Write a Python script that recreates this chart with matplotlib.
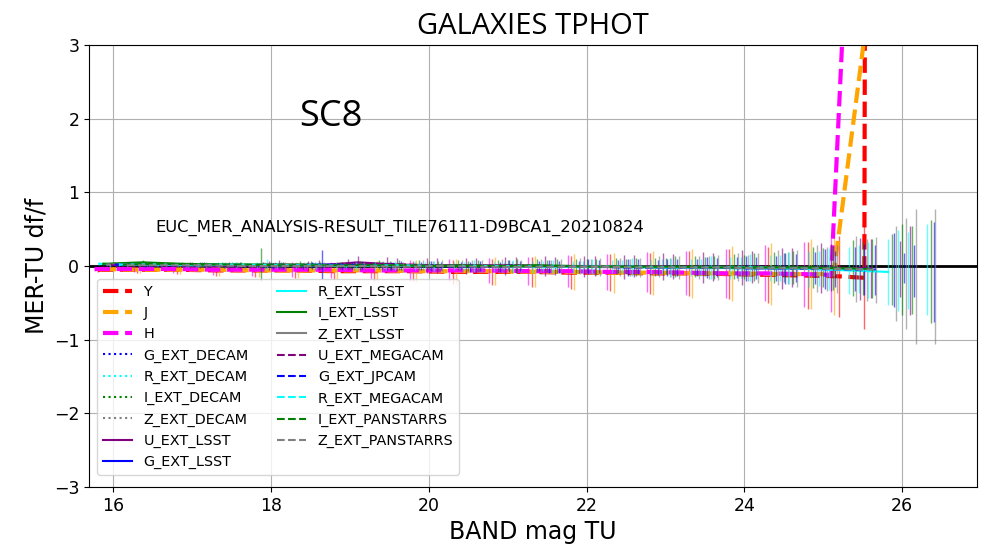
import matplotlib.pyplot as plt
import numpy as np

# Relative flux difference (MER - TU) per band, binned in TU magnitude
bands = ['Y', 'J', 'H',
         'G_EXT_DECAM', 'R_EXT_DECAM', 'I_EXT_DECAM', 'Z_EXT_DECAM',
         'U_EXT_LSST', 'G_EXT_LSST', 'R_EXT_LSST', 'I_EXT_LSST', 'Z_EXT_LSST',
         'U_EXT_MEGACAM', 'G_EXT_JPCAM', 'R_EXT_MEGACAM',
         'I_EXT_PANSTARRS', 'Z_EXT_PANSTARRS']

mag_Y = [15.80, 16.30, 16.80, 17.30, 17.80, 18.30, 18.80, 19.30, 19.80, 20.30, 20.80,
         21.30, 21.80, 22.30, 22.80, 23.30, 23.80, 24.30, 24.80, 25.20, 25.52, 25.55]
dff_Y = [-0.05, -0.05, -0.05, -0.06, -0.06, -0.06, -0.07, -0.07, -0.07, -0.08, -0.08,
         -0.08, -0.09, -0.09, -0.10, -0.10, -0.11, -0.12, -0.13, -0.14, -0.16, 15.0]
err_Y = [0.03, 0.04, 0.06, 0.07, 0.09, 0.10, 0.11, 0.13, 0.14, 0.16, 0.18,
         0.20, 0.22, 0.25, 0.28, 0.31, 0.34, 0.38, 0.45, 0.55, 0.70, 0.0]

mag_J = [15.84, 16.34, 16.84, 17.34, 17.84, 18.34, 18.84, 19.34, 19.84, 20.34, 20.84,
         21.34, 21.84, 22.34, 22.84, 23.34, 23.84, 24.34, 24.84, 25.13, 25.63]
dff_J = [-0.04, -0.05, -0.05, -0.05, -0.06, -0.06, -0.06, -0.06, -0.07, -0.07, -0.07,
         -0.08, -0.08, -0.09, -0.09, -0.10, -0.10, -0.11, -0.11, -0.11, 4.0]
err_J = [0.03, 0.05, 0.06, 0.08, 0.09, 0.10, 0.12, 0.13, 0.15, 0.17, 0.19,
         0.21, 0.24, 0.27, 0.30, 0.33, 0.37, 0.42, 0.48, 0.55, 0.0]

mag_H = [15.76, 16.26, 16.76, 17.26, 17.76, 18.26, 18.76, 19.26, 19.76, 20.26, 20.76,
         21.26, 21.76, 22.26, 22.76, 23.26, 23.76, 24.26, 24.76, 25.10, 25.27]
dff_H = [-0.04, -0.04, -0.04, -0.05, -0.05, -0.05, -0.05, -0.06, -0.06, -0.06, -0.06,
         -0.07, -0.07, -0.08, -0.08, -0.09, -0.10, -0.10, -0.11, -0.12, 3.75]
err_H = [0.03, 0.04, 0.06, 0.07, 0.08, 0.10, 0.11, 0.12, 0.14, 0.15, 0.17,
         0.19, 0.22, 0.24, 0.27, 0.30, 0.33, 0.38, 0.44, 0.50, 0.0]

mag_G_DECAM = [15.90, 16.40, 16.90, 17.40, 17.90, 18.40, 18.90, 19.40, 19.90, 20.40, 20.90,
               21.40, 21.90, 22.40, 22.90, 23.40, 23.90, 24.40, 24.90, 25.40, 25.90, 26.40]
dff_G_DECAM = [0.02, 0.01, 0.01, 0.00, 0.01, 0.00, 0.00, 0.01, 0.00, 0.00, -0.01,
               0.00, -0.01, -0.01, -0.02, -0.02, -0.02, -0.03, -0.03, -0.04, -0.05, -0.08]
err_G_DECAM = [0.02, 0.02, 0.03, 0.03, 0.04, 0.04, 0.05, 0.05, 0.06, 0.06, 0.07,
               0.07, 0.08, 0.09, 0.10, 0.12, 0.14, 0.17, 0.22, 0.30, 0.50, 0.68]

mag_R_DECAM = [15.95, 16.45, 16.95, 17.45, 17.95, 18.45, 18.95, 19.45, 19.95, 20.45, 20.95,
               21.45, 21.95, 22.45, 22.95, 23.45, 23.95, 24.45, 24.95, 25.45, 25.95]
dff_R_DECAM = [0.01, 0.02, 0.01, 0.01, 0.02, 0.01, 0.01, 0.00, 0.01, 0.00, 0.00,
               0.00, -0.01, -0.01, -0.01, -0.02, -0.02, -0.03, -0.03, -0.04, -0.06]
err_R_DECAM = [0.02, 0.02, 0.02, 0.03, 0.08, 0.04, 0.04, 0.05, 0.05, 0.06, 0.06,
               0.07, 0.08, 0.09, 0.10, 0.12, 0.14, 0.18, 0.24, 0.33, 0.55]

mag_I_DECAM = [16.00, 16.50, 17.00, 17.50, 18.00, 18.50, 19.00, 19.50, 20.00, 20.50, 21.00,
               21.50, 22.00, 22.50, 23.00, 23.50, 24.00, 24.50, 25.00, 25.50, 26.00]
dff_I_DECAM = [0.03, 0.03, 0.02, 0.02, 0.01, 0.02, 0.01, 0.01, 0.01, 0.00, 0.01,
               0.00, 0.00, -0.01, 0.00, -0.01, -0.01, -0.02, -0.02, -0.03, -0.05]
err_I_DECAM = [0.02, 0.02, 0.03, 0.03, 0.04, 0.05, 0.05, 0.06, 0.06, 0.07, 0.07,
               0.08, 0.09, 0.10, 0.11, 0.13, 0.16, 0.20, 0.26, 0.36, 0.62]

mag_Z_DECAM = [16.05, 16.55, 17.05, 17.55, 18.05, 18.55, 19.05, 19.55, 20.05, 20.55, 21.05,
               21.55, 22.05, 22.55, 23.05, 23.55, 24.05, 24.55, 25.05, 25.55, 26.05]
dff_Z_DECAM = [0.02, 0.02, 0.01, 0.01, 0.01, 0.00, 0.01, 0.00, 0.00, 0.00, -0.01,
               -0.01, -0.01, -0.02, -0.02, -0.02, -0.03, -0.03, -0.04, -0.05, -0.10]
err_Z_DECAM = [0.02, 0.03, 0.03, 0.04, 0.04, 0.05, 0.06, 0.06, 0.07, 0.08, 0.08,
               0.09, 0.10, 0.11, 0.13, 0.15, 0.18, 0.22, 0.30, 0.42, 0.75]

mag_U_LSST = [16.10, 16.60, 17.10, 17.60, 18.10, 18.60, 19.10, 19.60, 20.10, 20.60, 21.10,
              21.60, 22.10, 22.60, 23.10, 23.60, 24.10, 24.60, 25.10, 25.60, 26.10]
dff_U_LSST = [0.02, 0.02, 0.01, 0.01, 0.02, 0.01, 0.05, 0.02, 0.01, 0.01, 0.01,
              0.00, 0.00, 0.00, -0.01, -0.01, -0.01, -0.02, -0.02, -0.03, -0.06]
err_U_LSST = [0.03, 0.03, 0.04, 0.05, 0.06, 0.07, 0.08, 0.09, 0.10, 0.10, 0.11,
              0.12, 0.13, 0.15, 0.17, 0.19, 0.22, 0.26, 0.32, 0.40, 0.60]

mag_G_LSST = [16.15, 16.65, 17.15, 17.65, 18.15, 18.65, 19.15, 19.65, 20.15, 20.65, 21.15,
              21.65, 22.15, 22.65, 23.15, 23.65, 24.15, 24.65, 25.15, 25.65, 26.15]
dff_G_LSST = [0.03, 0.02, 0.02, 0.01, 0.01, 0.02, 0.01, 0.01, 0.00, 0.00, 0.00,
              -0.01, -0.01, -0.01, -0.02, -0.02, -0.03, -0.03, -0.04, -0.05, -0.07]
err_G_LSST = [0.02, 0.02, 0.03, 0.03, 0.05, 0.20, 0.05, 0.06, 0.06, 0.07, 0.07,
              0.08, 0.09, 0.10, 0.11, 0.13, 0.15, 0.19, 0.25, 0.34, 0.35]

mag_R_LSST = [15.82, 16.32, 16.82, 17.32, 17.82, 18.32, 18.82, 19.32, 19.82, 20.32, 20.82,
              21.32, 21.82, 22.32, 22.82, 23.32, 23.82, 24.32, 24.82, 25.32, 25.82, 26.32]
dff_R_LSST = [0.03, 0.02, 0.02, 0.02, 0.01, 0.01, 0.01, 0.00, 0.01, 0.00, 0.00,
              -0.01, -0.01, -0.01, -0.02, -0.02, -0.03, -0.03, -0.04, -0.06, -0.08, -0.05]
err_R_LSST = [0.02, 0.02, 0.03, 0.03, 0.04, 0.04, 0.05, 0.05, 0.06, 0.06, 0.07,
              0.08, 0.08, 0.09, 0.11, 0.12, 0.15, 0.18, 0.24, 0.32, 0.45, 0.62]

mag_I_LSST = [15.87, 16.37, 16.87, 17.37, 17.87, 18.37, 18.87, 19.37, 19.87, 20.37, 20.87,
              21.37, 21.87, 22.37, 22.87, 23.37, 23.87, 24.37, 24.87, 25.37, 25.87, 26.37]
dff_I_LSST = [0.03, 0.05, 0.03, 0.02, 0.02, 0.02, 0.01, 0.02, 0.01, 0.01, 0.00,
              0.01, 0.00, 0.00, -0.01, -0.01, -0.01, -0.02, -0.02, -0.03, -0.05, -0.07]
err_I_LSST = [0.02, 0.03, 0.03, 0.04, 0.22, 0.05, 0.05, 0.06, 0.07, 0.07, 0.08,
              0.09, 0.10, 0.11, 0.12, 0.14, 0.17, 0.21, 0.28, 0.38, 0.48, 0.70]

mag_Z_LSST = [15.92, 16.42, 16.92, 17.42, 17.92, 18.42, 18.92, 19.42, 19.92, 20.42, 20.92,
              21.42, 21.92, 22.42, 22.92, 23.42, 23.92, 24.42, 24.92, 25.42, 25.92, 26.42]
dff_Z_LSST = [0.02, 0.02, 0.01, 0.01, 0.01, 0.01, 0.00, 0.00, 0.01, 0.00, 0.00,
              -0.01, 0.00, -0.01, -0.01, -0.02, -0.02, -0.02, -0.03, -0.04, -0.10, -0.14]
err_Z_LSST = [0.02, 0.03, 0.03, 0.04, 0.05, 0.05, 0.06, 0.07, 0.07, 0.08, 0.09,
              0.10, 0.11, 0.12, 0.14, 0.16, 0.19, 0.24, 0.32, 0.45, 0.65, 0.92]

mag_U_MEGACAM = [15.97, 16.47, 16.97, 17.47, 17.97, 18.47, 18.97, 19.47, 19.97, 20.47, 20.97,
                 21.47, 21.97, 22.47, 22.97, 23.47, 23.97, 24.47, 24.97, 25.47, 25.97]
dff_U_MEGACAM = [0.01, 0.01, 0.01, 0.00, 0.01, 0.00, 0.02, 0.03, 0.01, 0.00, 0.00,
                 0.00, -0.01, -0.01, -0.01, -0.02, -0.02, -0.03, -0.03, -0.04, -0.04]
err_U_MEGACAM = [0.03, 0.03, 0.04, 0.05, 0.06, 0.07, 0.08, 0.09, 0.10, 0.11, 0.12,
                 0.13, 0.14, 0.16, 0.18, 0.21, 0.24, 0.28, 0.34, 0.42, 0.38]

mag_G_JPCAM = [16.02, 16.52, 17.02, 17.52, 18.02, 18.52, 19.02, 19.52, 20.02, 20.52, 21.02,
               21.52, 22.02, 22.52, 23.02, 23.52, 24.02, 24.52, 25.02, 25.52, 26.02]
dff_G_JPCAM = [0.02, 0.01, 0.01, 0.01, 0.00, 0.01, 0.01, 0.00, 0.00, -0.01, 0.00,
               -0.01, -0.01, -0.02, -0.02, -0.02, -0.03, -0.03, -0.04, -0.05, -0.03]
err_G_JPCAM = [0.02, 0.02, 0.03, 0.03, 0.04, 0.05, 0.05, 0.06, 0.07, 0.07, 0.08,
               0.09, 0.10, 0.11, 0.12, 0.14, 0.17, 0.21, 0.27, 0.35, 0.20]

mag_R_MEGACAM = [16.07, 16.57, 17.07, 17.57, 18.07, 18.57, 19.07, 19.57, 20.07, 20.57, 21.07,
                 21.57, 22.07, 22.57, 23.07, 23.57, 24.07, 24.57, 25.07, 25.57, 26.07]
dff_R_MEGACAM = [0.02, 0.02, 0.01, 0.02, 0.01, 0.01, 0.00, 0.01, 0.00, 0.00, 0.00,
                 -0.01, -0.01, -0.01, -0.02, -0.02, -0.02, -0.03, -0.04, -0.05, -0.06]
err_R_MEGACAM = [0.02, 0.02, 0.03, 0.04, 0.04, 0.05, 0.06, 0.06, 0.07, 0.08, 0.08,
                 0.09, 0.10, 0.12, 0.13, 0.15, 0.18, 0.22, 0.28, 0.38, 0.52]

mag_I_PANSTARRS = [16.12, 16.62, 17.12, 17.62, 18.12, 18.62, 19.12, 19.62, 20.12, 20.62, 21.12,
                   21.62, 22.12, 22.62, 23.12, 23.62, 24.12, 24.62, 25.12, 25.62, 26.12]
dff_I_PANSTARRS = [0.02, 0.03, 0.02, 0.02, 0.01, 0.01, 0.01, 0.01, 0.00, 0.00, 0.00,
                   0.00, -0.01, -0.01, -0.01, -0.02, -0.02, -0.02, -0.03, -0.04, -0.05]
err_I_PANSTARRS = [0.02, 0.03, 0.03, 0.04, 0.05, 0.05, 0.06, 0.07, 0.07, 0.08, 0.09,
                   0.10, 0.11, 0.12, 0.14, 0.16, 0.19, 0.23, 0.30, 0.40, 0.60]

mag_Z_PANSTARRS = [16.17, 16.67, 17.17, 17.67, 18.17, 18.67, 19.17, 19.67, 20.17, 20.67, 21.17,
                   21.67, 22.17, 22.67, 23.17, 23.67, 24.17, 24.67, 25.17, 25.67, 26.17]
dff_Z_PANSTARRS = [0.01, 0.01, 0.01, 0.00, 0.00, 0.00, 0.00, -0.01, 0.00, -0.01, -0.01,
                   -0.01, -0.01, -0.02, -0.02, -0.02, -0.03, -0.03, -0.04, -0.05, -0.14]
err_Z_PANSTARRS = [0.03, 0.03, 0.04, 0.04, 0.05, 0.06, 0.06, 0.07, 0.08, 0.09, 0.09,
                   0.10, 0.12, 0.13, 0.15, 0.17, 0.20, 0.25, 0.33, 0.45, 0.92]

mags = [mag_Y, mag_J, mag_H, mag_G_DECAM, mag_R_DECAM, mag_I_DECAM, mag_Z_DECAM,
        mag_U_LSST, mag_G_LSST, mag_R_LSST, mag_I_LSST, mag_Z_LSST,
        mag_U_MEGACAM, mag_G_JPCAM, mag_R_MEGACAM, mag_I_PANSTARRS, mag_Z_PANSTARRS]
dffs = [dff_Y, dff_J, dff_H, dff_G_DECAM, dff_R_DECAM, dff_I_DECAM, dff_Z_DECAM,
        dff_U_LSST, dff_G_LSST, dff_R_LSST, dff_I_LSST, dff_Z_LSST,
        dff_U_MEGACAM, dff_G_JPCAM, dff_R_MEGACAM, dff_I_PANSTARRS, dff_Z_PANSTARRS]
errs = [err_Y, err_J, err_H, err_G_DECAM, err_R_DECAM, err_I_DECAM, err_Z_DECAM,
        err_U_LSST, err_G_LSST, err_R_LSST, err_I_LSST, err_Z_LSST,
        err_U_MEGACAM, err_G_JPCAM, err_R_MEGACAM, err_I_PANSTARRS, err_Z_PANSTARRS]

colors = ['red', 'orange', 'magenta',
          'blue', 'cyan', 'green', 'gray',
          'purple', 'blue', 'cyan', 'green', 'gray',
          'purple', 'blue', 'cyan', 'green', 'gray']
styles = ['--', '--', '--',
          ':', ':', ':', ':',
          '-', '-', '-', '-', '-',
          '--', '--', '--', '--', '--']
widths = [3, 3, 3] + [1.5] * 14

# bins fainter than this only get their error bar
line_mag_limit = 25.85

fig, ax = plt.subplots(figsize=(9.85, 5.53), dpi=100)
fig.subplots_adjust(left=0.0904, right=0.992, bottom=0.1193, top=0.9186)

ax.axhline(0, color='black', linewidth=2, zorder=1.6)

for band, m, d, e, c, ls, lw in zip(bands, mags, dffs, errs, colors, styles, widths):
    m = np.array(m)
    d = np.array(d)
    e = np.array(e)
    ax.errorbar(m, d, yerr=e, fmt='none', ecolor=c, elinewidth=1, alpha=0.6)
    keep = m <= line_mag_limit
    ax.plot(m[keep], d[keep], linestyle=ls, color=c, linewidth=lw, label=band)

ax.set_xlim(15.69, 26.95)
ax.set_ylim(-3, 3)
ax.grid(True)

ax.text(18.76, 2.02, 'SC8', fontsize=26, family='Open Sans', ha='center', va='center')
ax.text(16.53, 0.52, 'EUC_MER_ANALYSIS-RESULT_TILE76111-D9BCA1_20210824',
        fontsize=11.8, ha='left', va='center')

ax.set_title('GALAXIES TPHOT', fontsize=21, family='Open Sans', pad=8)
ax.set_xlabel('BAND mag TU', fontsize=17)
ax.set_ylabel('MER-TU df/f', fontsize=17)
ax.tick_params(labelsize=12.5)

ax.legend(loc='lower left', bbox_to_anchor=(0.009, 0.027), borderaxespad=0,
          ncol=2, fontsize=10.4)

plt.savefig('out.png', dpi=100)
